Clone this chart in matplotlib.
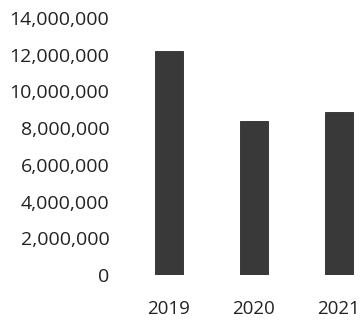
import matplotlib.pyplot as plt
import numpy as np

# data
years = ['2019', '2020', '2021']
values = [12200000, 8400000, 8900000]
yticks = [0, 2000000, 4000000, 6000000, 8000000, 10000000, 12000000, 14000000]

plt.rcParams['font.family'] = ['Open Sans', 'DejaVu Sans']

fig = plt.figure(figsize=(3.61, 3.26), dpi=100)
ax = fig.add_axes([119 / 361, 51 / 326, 242 / 361, 257 / 326])

x = np.arange(len(years))
ax.bar(x, values, width=0.32, color='#393939', edgecolor='#2a2a2a', linewidth=0.6)

ax.set_xlim(-0.588, 2.259)
ax.set_ylim(0, 14000000)
ax.set_yticks(yticks)
ax.set_yticklabels([f'{v:,}' for v in yticks])
ax.set_xticks(x)
ax.set_xticklabels(years)

ax.tick_params(axis='y', length=0, pad=7, labelsize=14, labelcolor='#222222')
ax.tick_params(axis='x', length=0, pad=18, labelsize=13.5, labelcolor='#222222')
for s in ax.spines.values():
    s.set_visible(False)

fig.savefig('out.png', dpi=100)
